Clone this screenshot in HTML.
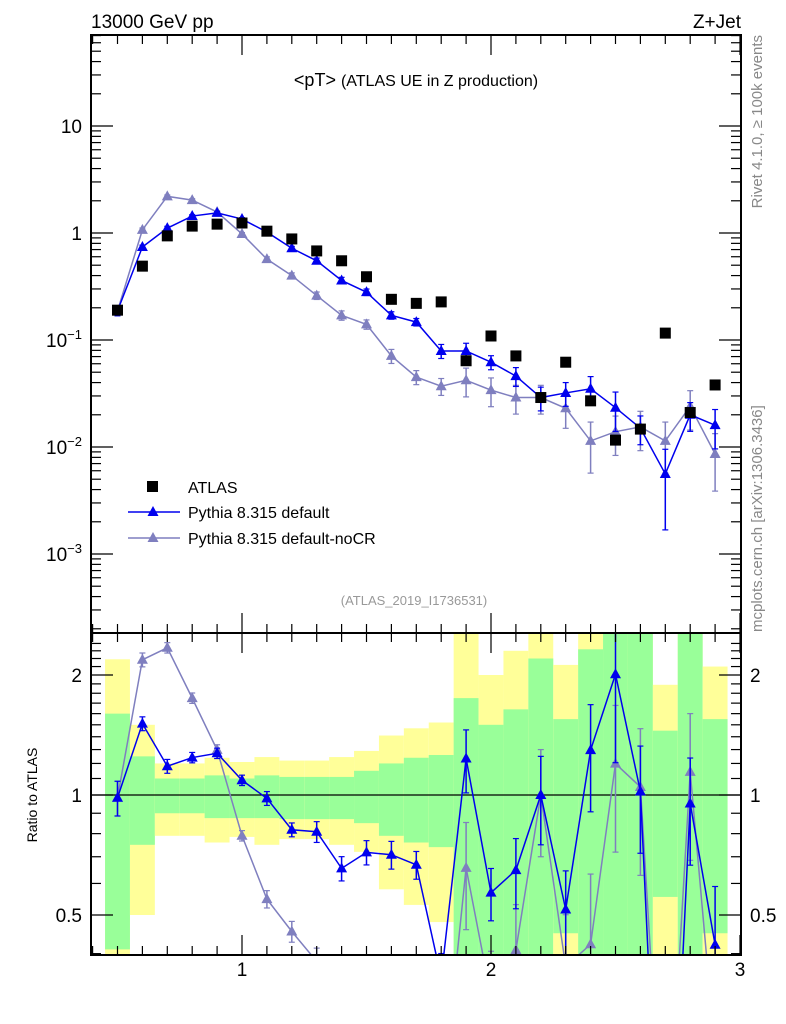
<!DOCTYPE html>
<html><head><meta charset="utf-8">
<style>
html,body{margin:0;background:#fff;overflow:hidden;width:786px;height:1024px;}
svg{display:block;font-family:"Liberation Sans",sans-serif;}
</style></head>
<body>
<svg id="chart" width="786" height="1024" viewBox="0 0 786 1024" xmlns="http://www.w3.org/2000/svg">
<text x="91" y="28" font-size="19">13000 GeV pp</text>
<text x="741" y="28" font-size="19" text-anchor="end">Z+Jet</text>
<text x="416" y="86" font-size="18" text-anchor="middle">&lt;pT&gt; <tspan font-size="16">(ATLAS UE in Z production)</tspan></text>
<text x="414" y="605" font-size="13" fill="#999" text-anchor="middle">(ATLAS_2019_I1736531)</text>
<text transform="translate(762,35) rotate(-90)" font-size="15" fill="#888" text-anchor="end">Rivet 4.1.0, ≥ 100k events</text>
<text transform="translate(762,632) rotate(-90)" font-size="15" fill="#888">mcplots.cern.ch [arXiv:1306.3436]</text>
<text transform="translate(37,795) rotate(-90)" font-size="14" text-anchor="middle">Ratio to ATLAS</text>
<g id="bands"></g>
<g id="marks"></g>
<g id="axes"></g>
<g id="legend">
<rect x="147" y="481" width="11" height="11" fill="#000"/>
<text x="188" y="493" font-size="16">ATLAS</text>
<line x1="128" y1="512" x2="180" y2="512" stroke="#0000ee" stroke-width="1.5"/>
<polygon points="153,506 147.5,516 158.5,516" fill="#0000ee"/>
<text x="188" y="518" font-size="16">Pythia 8.315 default</text>
<line x1="128" y1="538" x2="180" y2="538" stroke="#7f7fbf" stroke-width="1.5"/>
<polygon points="153,532 147.5,542 158.5,542" fill="#7f7fbf"/>
<text x="188" y="544" font-size="16">Pythia 8.315 default-noCR</text>
</g>
</svg>
<script>
const xCenters=[0.5,0.6,0.7,0.8,0.9,1.0,1.1,1.2,1.3,1.4,1.5,1.6,1.7,1.8,1.9,2.0,2.1,2.2,2.3,2.4,2.5,2.6,2.7,2.8,2.9];
const atlasVals=[0.19,0.49,0.94,1.16,1.21,1.24,1.04,0.88,0.68,0.55,0.39,0.24,0.22,0.227,0.064,0.109,0.071,0.029,0.062,0.027,0.0116,0.0147,0.116,0.021,0.038];
const defaultVals=[0.187,0.74,1.11,1.44,1.54,1.35,1.02,0.72,0.55,0.36,0.28,0.17,0.147,0.079,0.079,0.062,0.046,0.029,0.032,0.035,0.0233,0.015,0.0056,0.020,0.016];
const defaultRelErr=[0.1,0.04,0.04,0.03,0.03,0.03,0.04,0.04,0.06,0.07,0.07,0.08,0.08,0.15,0.18,0.15,0.2,0.25,0.25,0.3,0.4,0.3,0.7,0.3,0.4];
const nocrVals=[0.187,1.07,2.2,2.03,1.57,0.98,0.57,0.40,0.26,0.17,0.14,0.071,0.045,0.037,0.042,0.034,0.029,0.029,0.023,0.0114,0.0139,0.0154,0.0114,0.024,0.0086];
const nocrRelErr=[0.1,0.04,0.03,0.03,0.03,0.03,0.05,0.06,0.08,0.1,0.1,0.15,0.15,0.18,0.3,0.3,0.3,0.3,0.35,0.5,0.4,0.4,0.5,0.4,0.55];
const statUp=[1.60,1.25,1.10,1.10,1.12,1.10,1.12,1.11,1.11,1.11,1.15,1.20,1.24,1.26,1.75,1.50,1.64,2.2,1.55,2.32,3,3,1.45,3,1.55];
const statDn=[0.41,0.75,0.90,0.90,0.875,0.875,0.875,0.87,0.87,0.87,0.85,0.79,0.76,0.74,0.3,0.3,0.3,0.3,0.45,0.3,0.3,0.3,0.555,0.3,0.45];
const totUp=[2.19,1.50,1.20,1.20,1.24,1.21,1.245,1.22,1.22,1.245,1.29,1.41,1.47,1.52,3,2.0,2.3,3,2.12,3,3,3,1.89,3,2.1];
const totDn=[0.38,0.50,0.79,0.79,0.76,0.785,0.75,0.775,0.775,0.75,0.72,0.58,0.53,0.48,0.3,0.51,0.3,0.3,0.3,0.3,0.3,0.3,0.3,0.3,0.3];
const binW=0.1;
const yMainTicks=[10,1,0.1,0.01,0.001];
const yMainLabels=["10","1","10|-1","10|-2","10|-3"];
const ratioTicks=[0.5,1,2];
const xTicks=[1,2,3];

const NS="http://www.w3.org/2000/svg";
const L=91,R=741,T=35,M=633,B=955;
const X=v=>242+(v-1)*249;
const Y=v=>233-107*Math.log10(v);
const YR=r=>795-120*Math.log2(r);
function mk(tag,attrs,parent){const e=document.createElementNS(NS,tag);for(const k in attrs)e.setAttribute(k,attrs[k]);parent.appendChild(e);return e;}
const bands=document.getElementById('bands'),marks=document.getElementById('marks'),axes=document.getElementById('axes');
const clampR=r=>Math.min(Math.max(YR(Math.min(Math.max(r,0.3),3)),M),B);

xCenters.forEach((x,i)=>{
  const x0=X(x-binW/2),w=X(x+binW/2)-x0;
  const y1=clampR(totUp[i]),y2=clampR(totDn[i]);
  const r=mk('rect',{x:x0,y:y1,width:w,height:y2-y1,fill:'#ffff99'},bands);
  
  
  const g1=clampR(statUp[i]),g2=clampR(statDn[i]);
  const g=mk('rect',{x:x0,y:g1,width:w,height:g2-g1,fill:'#99ff99'},bands);
  
  
});
mk('line',{x1:L,x2:R,y1:YR(1),y2:YR(1),stroke:'#000','stroke-width':1.2},bands);

const defs=mk('defs',{},marks);
const c1=mk('clipPath',{id:'cm'},defs);mk('rect',{x:L,y:T,width:R-L,height:M-T},c1);
const c2=mk('clipPath',{id:'cr'},defs);mk('rect',{x:L,y:M,width:R-L,height:B-M},c2);
const gMain=mk('g',{'clip-path':'url(#cm)'},marks);
const gRatio=mk('g',{'clip-path':'url(#cr)'},marks);

function tri(g,cx,cy,col){return mk('polygon',{points:`${cx},${cy-6} ${cx-5.5},${cy+4} ${cx+5.5},${cy+4}`,fill:col},g);}
function series(vals,rel,col,name){
  const pts=xCenters.map((x,i)=>X(x)+','+Y(vals[i])).join(' ');
  const pl=mk('polyline',{points:pts,fill:'none',stroke:col,'stroke-width':1.5},gMain);
  
  
  xCenters.forEach((x,i)=>{
    const v=vals[i],e=v*rel[i],lo=Math.max(v-e,1e-5);
    mk('line',{x1:X(x),x2:X(x),y1:Y(v+e),y2:Y(lo),stroke:col,'stroke-width':1.5},gMain);
    mk('line',{x1:X(x)-3,x2:X(x)+3,y1:Y(v+e),y2:Y(v+e),stroke:col,'stroke-width':1.2},gMain);
    mk('line',{x1:X(x)-3,x2:X(x)+3,y1:Y(lo),y2:Y(lo),stroke:col,'stroke-width':1.2},gMain);
    const t=tri(gMain,X(x),Y(v),col);
    
    
  });
  const rp=xCenters.map((x,i)=>X(x)+','+YR(vals[i]/atlasVals[i])).join(' ');
  const rl=mk('polyline',{points:rp,fill:'none',stroke:col,'stroke-width':1.5},gRatio);
  
  
  xCenters.forEach((x,i)=>{
    const r=vals[i]/atlasVals[i],e=r*rel[i],lo=Math.max(r-e,0.01);
    mk('line',{x1:X(x),x2:X(x),y1:YR(r+e),y2:YR(lo),stroke:col,'stroke-width':1.5},gRatio);
    mk('line',{x1:X(x)-3,x2:X(x)+3,y1:YR(r+e),y2:YR(r+e),stroke:col,'stroke-width':1.2},gRatio);
    mk('line',{x1:X(x)-3,x2:X(x)+3,y1:YR(lo),y2:YR(lo),stroke:col,'stroke-width':1.2},gRatio);
    const t=tri(gRatio,X(x),YR(r),col);
    
    
  });
}
series(nocrVals,nocrRelErr,'#7f7fbf','pythia-nocr');
series(defaultVals,defaultRelErr,'#0000ee','pythia-default');
xCenters.forEach((x,i)=>{
  const s=mk('rect',{x:X(x)-5.5,y:Y(atlasVals[i])-5.5,width:11,height:11,fill:'#000'},gMain);
  
  
});

const f1=mk('rect',{x:L,y:T,width:R-L,height:M-T,fill:'none',stroke:'#000','stroke-width':2},axes);


const f2=mk('rect',{x:L,y:M,width:R-L,height:B-M,fill:'none',stroke:'#000','stroke-width':2},axes);


const tk={stroke:'#000','stroke-width':1.2};
for(let k=4;k<=30;k++){
  const v=k/10,x=X(v);if(x<L||x>R)continue;
  const major=(k%10===0),len=major?20:9;
  [[T,1],[M,-1],[M,1],[B,-1]].forEach(([y,d])=>mk('line',Object.assign({x1:x,x2:x,y1:y,y2:y+d*len},tk),axes));
}
xTicks.forEach(v=>{
  const t=mk('text',{x:X(v),y:976,'font-size':19,'text-anchor':'middle'},axes);
  t.textContent=v;
  
  
});
for(let e=-4;e<=1;e++){
  for(let m=1;m<10;m++){
    const v=m*Math.pow(10,e),y=Y(v);if(y<T||y>M)continue;
    const len=m===1?22:10;
    mk('line',Object.assign({x1:L,x2:L+len,y1:y,y2:y},tk),axes);
    mk('line',Object.assign({x1:R,x2:R-len,y1:y,y2:y},tk),axes);
  }
}
yMainTicks.forEach((v,i)=>{
  const t=mk('text',{x:82,y:Y(v)+7,'font-size':19,'text-anchor':'end'},axes);
  
  
  const p=yMainLabels[i].split('|');
  if(p.length===1)t.textContent=p[0];
  else{const a=mk('tspan',{},t);a.textContent=p[0];const b=mk('tspan',{dy:-8,'font-size':13},t);b.textContent='−'+p[1].slice(1);}
});
for(let v=0.4;v<=2.5;v+=0.1){
  const r=Math.round(v*10)/10,y=YR(r);if(y<M||y>B)continue;
  const major=ratioTicks.includes(r),len=major?22:10;
  mk('line',Object.assign({x1:L,x2:L+len,y1:y,y2:y},tk),axes);
  mk('line',Object.assign({x1:R,x2:R-len,y1:y,y2:y},tk),axes);
}
ratioTicks.forEach(v=>{
  const a=mk('text',{x:82,y:YR(v)+7,'font-size':19,'text-anchor':'end'},axes);
  a.textContent=v;
  
  
  const b=mk('text',{x:750,y:YR(v)+7,'font-size':19},axes);
  b.textContent=v;
  
  
});
</script>
</body></html>
